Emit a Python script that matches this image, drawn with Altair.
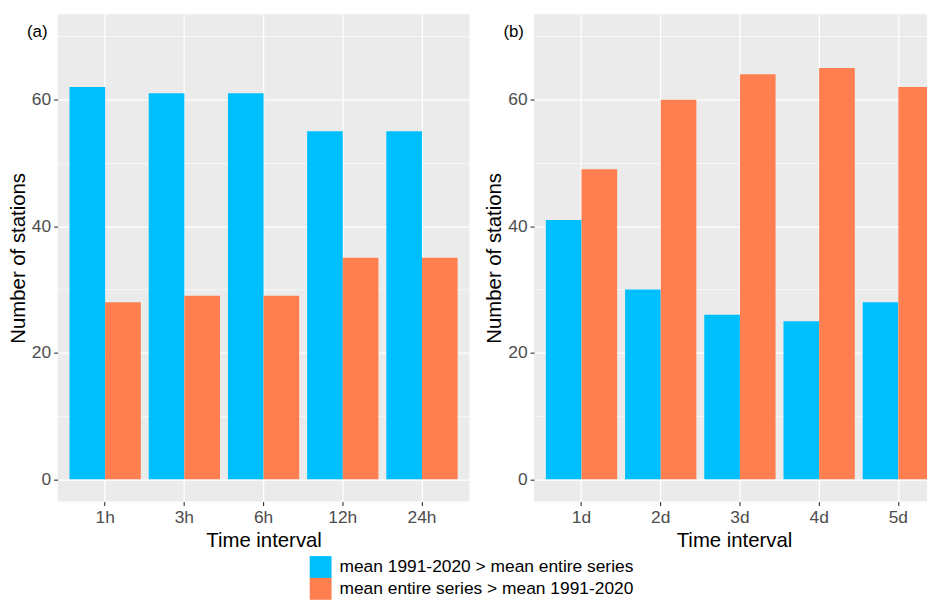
import altair as alt
import pandas as pd

# ---- data ----
hours = ["1h", "3h", "6h", "12h", "24h"]
days = ["1d", "2d", "3d", "4d", "5d"]
series = ["mean 1991-2020 > mean entire series", "mean entire series > mean 1991-2020"]
hours_blue = [62, 61, 61, 55, 55]
hours_orange = [28, 29, 29, 35, 35]
days_blue = [41, 30, 26, 25, 28]
days_orange = [49, 60, 64, 65, 62]
colors = ["#00BFFF", "#FF7F50"]
y_ticks = [0, 10, 20, 30, 40, 50, 60, 70]
tags = ["(a)", "(b)"]

FONT = "Liberation Sans"


def make_df(cats, blue, orange):
    rows = []
    for c, b, o in zip(cats, blue, orange):
        rows.append({"interval": c, "series": series[0], "count": b})
        rows.append({"interval": c, "series": series[1], "count": o})
    return pd.DataFrame(rows)


legend = alt.Legend(
    title=None,
    orient="none",
    legendX=254,
    legendY=546,
    direction="vertical",
    symbolType="square",
    symbolSize=484,
    symbolStrokeWidth=0,
    symbolOpacity=1,
    labelFontSize=17.5,
    labelFont=FONT,
    labelColor="#000000",
    labelOffset=8,
    rowPadding=0,
    padding=0,
    labelLimit=600,
)

major = "datum.value % 20 === 0"


def panel(df, cats, tag, width, x_scale):
    bars = alt.Chart(df).mark_bar(clip=True).encode(
        x=alt.X(
            "interval:N",
            sort=cats,
            title="Time interval",
            scale=x_scale,
            axis=alt.Axis(
                labelAngle=0,
                labelFontSize=17.5,
                labelPadding=3.5,
                titlePadding=4,
            ),
        ),
        xOffset=alt.XOffset(
            "series:N", sort=series, scale=alt.Scale(paddingInner=0, paddingOuter=0)
        ),
        y=alt.Y(
            "count:Q",
            stack=None,
            title="Number of stations",
            scale=alt.Scale(domain=[-3.5, 73.5], nice=False, zero=False),
            axis=alt.Axis(
                values=y_ticks,
                labelExpr=f"{major} ? datum.label : ''",
                tickColor={"condition": {"test": major, "value": "#333333"}, "value": "transparent"},
                gridWidth={"condition": {"test": major, "value": 1.3}, "value": 0.6},
                labelFontSize=17.5,
                labelPadding=3,
                titlePadding=3,
            ),
        ),
        color=alt.Color(
            "series:N", sort=series, scale=alt.Scale(domain=series, range=colors), legend=legend
        ),
    )
    tag_text = (
        alt.Chart(pd.DataFrame({"t": [tag]}))
        .mark_text(font=FONT, fontSize=17, color="#000000", align="center", baseline="middle")
        .encode(text="t:N", x=alt.value(-20.5), y=alt.value(18))
    )
    return alt.layer(bars, tag_text).properties(width=width, height=491)


pa = panel(
    make_df(hours, hours_blue, hours_orange), hours, tags[0], 415,
    alt.Scale(paddingInner=0.1, paddingOuter=0.15),
)
# panel (b) is cut at the right edge in the reference: same band step as (a),
# drawn over a slightly wider range and clipped to the visible plot area
pb = panel(
    make_df(days, days_blue, days_orange), days, tags[1], 396,
    alt.Scale(paddingInner=0.1, paddingOuter=0.0748, align=1, range=[0, 403]),
)

chart = (
    alt.hconcat(pa, pb, spacing=65, bounds="flush")
    .resolve_scale(x="independent", xOffset="independent")
    .properties(padding={"left": 0, "top": 4, "right": 0, "bottom": 0})
    .configure_view(fill="#EBEBEB", stroke=None)
    .configure_axis(
        domain=False,
        grid=True,
        gridColor="#FFFFFF",
        gridWidth=1.3,
        tickColor="#333333",
        tickSize=4,
        tickWidth=1.1,
        labelColor="#4D4D4D",
        labelFont=FONT,
        titleFont=FONT,
        titleFontSize=20.5,
        titleFontWeight="normal",
        titleColor="#000000",
    )
)

chart.save("out.html", embed_options={"renderer": "svg", "actions": False})
